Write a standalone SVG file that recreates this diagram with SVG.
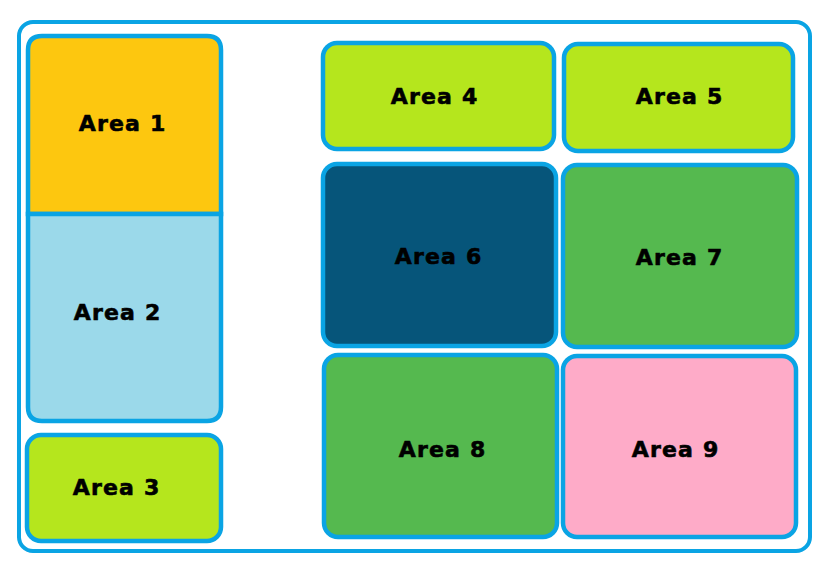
<svg xmlns="http://www.w3.org/2000/svg" width="840" height="578" viewBox="0 0 840 578">
<style>
.box{stroke:#0aa4e4;stroke-width:4.5}
.lbl{font-family:"DejaVu Sans",Verdana,sans-serif;font-weight:bold;font-size:22px;letter-spacing:1.2px;fill:#000;stroke:#000;stroke-width:0.6;text-anchor:middle}
</style>
<rect x="0" y="0" width="840" height="578" fill="#fff"/>
<rect id="frame" x="19" y="22" width="791" height="529" rx="14" fill="#fff" stroke="#0aa4e4" stroke-width="4"/>
<g id="area1">
<path class="box" d="M28,214 V50 Q28,36 42,36 H207 Q221,36 221,50 V214 Z" fill="#fdc70f"/>
<text class="lbl" x="122.6" y="131">Area 1</text>
</g>
<g id="area2">
<path class="box" d="M28,214 H221 V407 Q221,421 207,421 H42 Q28,421 28,407 Z" fill="#9bd9ea"/>
<text class="lbl" x="117.6" y="320">Area 2</text>
</g>
<g id="area3">
<rect class="box" x="27" y="435" width="194" height="106" rx="14" fill="#b5e61d"/>
<text class="lbl" x="116.6" y="495">Area 3</text>
</g>
<g id="area4">
<rect class="box" x="323" y="43" width="231" height="106" rx="14" fill="#b5e61d"/>
<text class="lbl" x="434.6" y="104">Area 4</text>
</g>
<g id="area5">
<rect class="box" x="564" y="44" width="229" height="107" rx="14" fill="#b5e61d"/>
<text class="lbl" x="679.6" y="104">Area 5</text>
</g>
<g id="area6">
<rect class="box" x="323" y="164" width="233" height="182" rx="14" fill="#06557a"/>
<text class="lbl" x="438.6" y="264">Area 6</text>
</g>
<g id="area7">
<rect class="box" x="563" y="165" width="234" height="182" rx="14" fill="#55b94f"/>
<text class="lbl" x="679.6" y="265">Area 7</text>
</g>
<g id="area8">
<rect class="box" x="324" y="355" width="233" height="182" rx="14" fill="#55b94f"/>
<text class="lbl" x="442.6" y="457">Area 8</text>
</g>
<g id="area9">
<rect class="box" x="563" y="356" width="233" height="181" rx="14" fill="#feabc8"/>
<text class="lbl" x="675.6" y="457">Area 9</text>
</g>
<g id="connectors"></g>
</svg>
